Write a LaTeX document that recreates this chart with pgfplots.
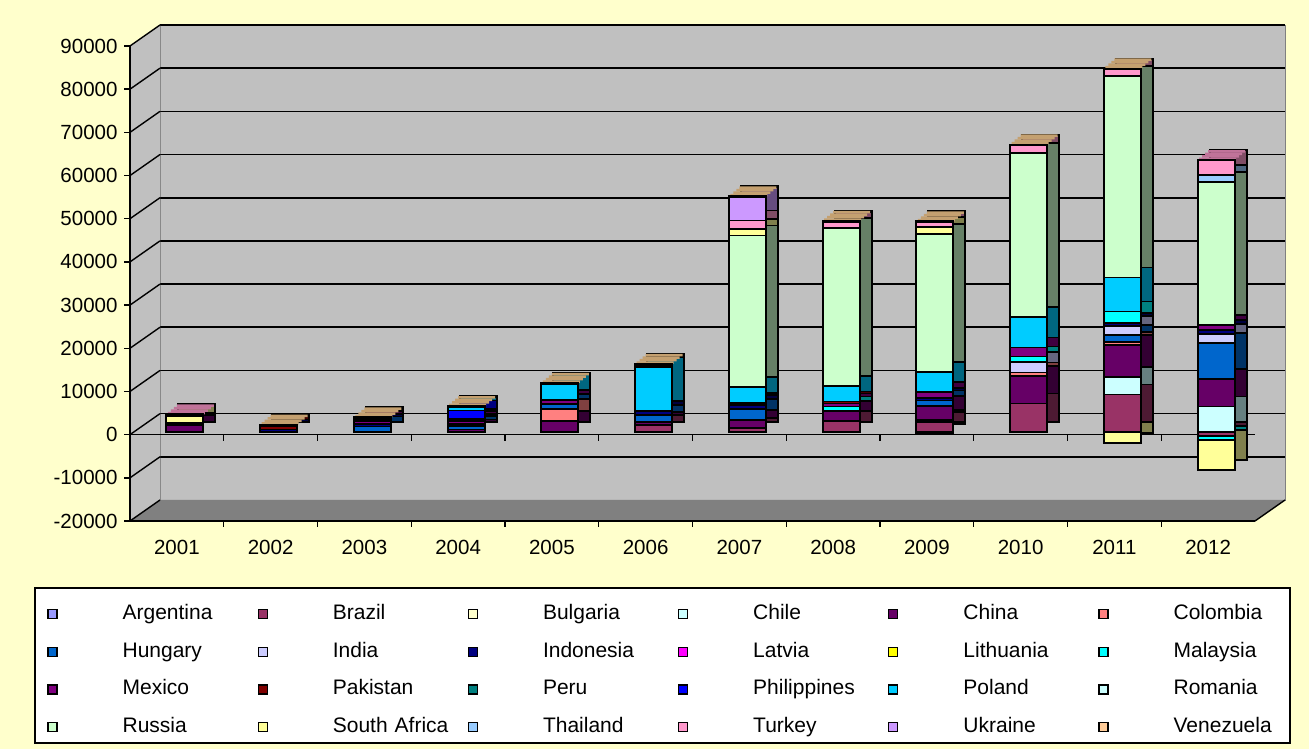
\documentclass[border=0pt]{standalone}
\usepackage{pgfplots}
\pgfplotsset{compat=1.18}
\usepackage{pgfplotstable}
\usepackage{fontspec}
\setmainfont{Liberation Sans}

\definecolor{bgyellow}{HTML}{FFFFCC}
\definecolor{wallgray}{HTML}{C0C0C0}
\definecolor{floorgray}{HTML}{808080}
\definecolor{cArg}{HTML}{9999FF}\definecolor{sArg}{HTML}{4D4D80}
\definecolor{cBra}{HTML}{993366}\definecolor{sBra}{HTML}{4D1A33}
\definecolor{cBul}{HTML}{FFFFCC}\definecolor{sBul}{HTML}{808066}
\definecolor{cChi}{HTML}{CCFFFF}\definecolor{sChi}{HTML}{668080}
\definecolor{cChn}{HTML}{660066}\definecolor{sChn}{HTML}{330033}
\definecolor{cCol}{HTML}{FF8080}\definecolor{sCol}{HTML}{804040}
\definecolor{cHun}{HTML}{0066CC}\definecolor{sHun}{HTML}{003366}
\definecolor{cInd}{HTML}{CCCCFF}\definecolor{sInd}{HTML}{666680}
\definecolor{cIdn}{HTML}{000080}\definecolor{sIdn}{HTML}{000040}
\definecolor{cLat}{HTML}{FF00FF}\definecolor{sLat}{HTML}{800080}
\definecolor{cLit}{HTML}{FFFF00}\definecolor{sLit}{HTML}{808000}
\definecolor{cMal}{HTML}{00FFFF}\definecolor{sMal}{HTML}{008080}
\definecolor{cMex}{HTML}{800080}\definecolor{sMex}{HTML}{400040}
\definecolor{cPak}{HTML}{800000}\definecolor{sPak}{HTML}{400000}
\definecolor{cPer}{HTML}{008080}\definecolor{sPer}{HTML}{004040}
\definecolor{cPhi}{HTML}{0000FF}\definecolor{sPhi}{HTML}{000080}
\definecolor{cPol}{HTML}{00CCFF}\definecolor{sPol}{HTML}{006680}
\definecolor{cRom}{HTML}{CCFFFF}\definecolor{sRom}{HTML}{668080}
\definecolor{cRus}{HTML}{CCFFCC}\definecolor{sRus}{HTML}{668066}
\definecolor{cSAf}{HTML}{FFFF99}\definecolor{sSAf}{HTML}{80804D}
\definecolor{cTha}{HTML}{99CCFF}\definecolor{sTha}{HTML}{4D6680}
\definecolor{cTur}{HTML}{FF99CC}\definecolor{sTur}{HTML}{804D66}
\definecolor{cUkr}{HTML}{CC99FF}\definecolor{sUkr}{HTML}{664D80}
\definecolor{cVen}{HTML}{FFCC99}\definecolor{sVen}{HTML}{80664D}
\definecolor{tVen}{HTML}{C4A070}
\definecolor{tTur}{HTML}{C07399}

% values by year index (1 = 2001 ... 12 = 2012); negatives stack below zero
\pgfplotstableread{
x Arg Bra Bul Chi Chn Col Hun Ind Idn Lat Lit Mal Mex Pak Per Phi Pol Rom Rus SAf Tha Tur Ukr Ven
1 0 0 0 0 1500 0 0 0 500 0 0 0 0 0 0 0 0 0 0 1700 0 300 0 0
2 0 0 0 0 0 0 0 0 500 0 0 0 0 800 0 0 0 0 0 0 0 0 0 300
3 0 0 0 0 0 0 1200 0 500 0 0 0 800 500 0 0 0 0 0 0 0 0 0 300
4 0 0 0 0 500 0 800 0 500 0 0 0 700 400 0 2000 700 0 0 0 0 0 0 300
5 0 0 0 0 2400 2800 1200 0 0 0 0 0 1000 0 0 0 3700 0 0 0 0 0 0 200
6 0 1500 0 0 800 0 1600 0 800 0 0 0 0 0 0 0 10300 0 0 0 0 500 0 200
7 0 900 0 0 1800 0 2600 0 800 0 0 0 0 600 0 0 3700 0 35000 1600 0 1900 5400 200
8 0 2500 0 0 2300 0 0 0 0 0 0 1000 700 500 0 0 3500 0 36600 0 0 1500 0 200
9 0 2200 0 500 3300 0 1200 0 500 0 0 0 1500 -600 0 0 4600 0 32000 1500 0 1200 0 200
10 0 6500 0 0 6300 900 0 2500 0 0 0 1200 2100 0 0 0 7000 0 38000 0 0 1800 0 200
11 0 8600 0 4000 7500 700 1600 2100 600 0 0 2700 0 0 0 0 7900 0 46600 -2600 0 1600 0 200
12 0 -1000 0 5800 6300 0 8400 2100 900 0 0 -1000 1200 0 0 0 0 0 33100 -6800 1600 3500 0 0
}\datatab

% top faces of the bars (depth of the 3-D bars), in four slanted steps
\pgfplotstableread{
x capV capT
1 0 579
2 579 0
3 579 0
4 579 0
5 579 0
6 579 0
7 579 0
8 579 0
9 579 0
10 579 0
11 579 0
12 0 579
}\captab

\newcommand\drawbars[1]{%
  \pgfplotsinvokeforeach{Arg,Bra,Bul,Chi,Chn,Col,Hun,Ind,Idn,Lat,Lit,Mal,Mex,Pak,Per,Phi,Pol,Rom,Rus,SAf,Tha,Tur,Ukr,Ven}{\addplot[fill=#1##1] table[x=x,y=##1]{\datatab};}
}

\pgfplotsset{
  barlayer/.style={scale only axis, width=1125pt, height=475pt,
    xmin=0.5, xmax=12.5, ymin=-20000, ymax=90000, anchor=south west,
    ybar stacked, bar width=37pt, hide axis, clip=false,
    every axis plot/.append style={draw=black, line width=1.8pt}},
}

\begin{document}
\begin{tikzpicture}
\path[use as bounding box] (0pt,0pt) rectangle (1309pt,749pt);
\fill[bgyellow] (0pt,0pt) rectangle (1309pt,749pt);
% back wall
\begin{axis}[at={(160pt,249pt)}, anchor=south west, scale only axis,
  width=1125pt, height=475pt, xmin=0.5, xmax=12.5, ymin=-20000, ymax=90000,
  xtick=\empty, ytick=\empty,
  axis background/.style={fill=wallgray},
  axis line style={draw=black!50, line width=0.8pt}]
\pgfplotsinvokeforeach{-10000,0,10000,20000,30000,40000,50000,60000,70000,80000}{
  \draw[black, line width=1.6pt] (axis cs:0.5,#1) -- (axis cs:12.5,#1);
}
\end{axis}
\draw[black, line width=1.6pt] (160pt,724pt) -- (1285pt,724pt);
% side wall and floor
\fill[wallgray] (130pt,228pt) -- (160pt,249pt) -- (160pt,724pt) -- (130pt,703pt) -- cycle;
\fill[floorgray] (130pt,228pt) -- (160pt,249pt) -- (1285pt,249pt) -- (1255pt,228pt) -- cycle;
\draw[line width=1.4pt] (1255pt,228pt) -- (1285pt,249pt);
\foreach \i in {0,...,11}
  \draw[line width=1.4pt] (130pt,{228pt+\i*43.1818pt}) -- (160pt,{249pt+\i*43.1818pt});
% legend box
\draw[fill=white, line width=1.5pt] (35pt,6pt) rectangle (1290pt,161pt);
% front plane: axis lines, ticks and labels
\begin{axis}[at={(130pt,228pt)}, anchor=south west, scale only axis,
  width=1125pt, height=475pt, xmin=0.5, xmax=12.5, ymin=-20000, ymax=90000,
  clip=false, axis line style={draw=none},
  xtick={1,...,12},
  xticklabels={2001,2002,2003,2004,2005,2006,2007,2008,2009,2010,2011,2012},
  xtick style={draw=none},
  ytick={-20000,-10000,...,90000}, scaled y ticks=false,
  yticklabels={-20000,-10000,0,10000,20000,30000,40000,50000,60000,70000,80000,90000},
  ytick style={draw=none},
  tick label style={font=\fontsize{20.5}{24}\selectfont},
  yticklabel style={xshift=-9pt},
  xticklabel style={yshift=-16pt}]
\draw[line width=1.4pt] (axis cs:0.5,90000) -- (axis cs:0.5,-20000) -- (axis cs:12.5,-20000);
\draw[line width=1.4pt] (axis cs:0.5,0) -- (axis cs:12.5,0);
\pgfplotsinvokeforeach{-20000,-10000,0,10000,20000,30000,40000,50000,60000,70000,80000,90000}{
  \draw[line width=1.4pt] (axis cs:0.5,#1) -- ++(-6pt,0pt);
}
\pgfplotsinvokeforeach{1.5,2.5,3.5,4.5,5.5,6.5,7.5,8.5,9.5,10.5,11.5}{
  \draw[line width=1.4pt] (axis cs:#1,0) -- ++(0pt,-6pt);
  \draw[line width=1.4pt] (axis cs:#1,-20000) -- ++(0pt,-6pt);
}
\end{axis}
% side faces of the bars
\begin{axis}[barlayer, at={(150pt,241pt)}]
\drawbars{s}
\end{axis}
% front faces, top faces and legend
\begin{axis}[barlayer, at={(138pt,231pt)},
  legend columns=6,
  legend cell align=left,
  legend image code/.code={\draw[#1,line width=1.2pt] (0pt,-4.5pt) rectangle (9pt,4.5pt);},
  legend style={at={(rel axis cs:-0.0805,-0.1625)}, anchor=north west,
    draw=none, fill=none, inner sep=0pt, outer sep=0pt,
    font=\fontsize{21}{25}\selectfont,
    nodes={text width=130pt, inner xsep=0pt, inner ysep=0pt,
      text height=15.5pt, text depth=4.5pt, minimum height=37.7pt, align=left},
    /tikz/every odd column/.append style={column sep=65pt},
    /tikz/every even column/.append style={column sep=5pt}}]
\drawbars{c}
\pgfplotsinvokeforeach{1.5,4.5,7.5,10.5}{
  \addplot[fill=tVen, draw=none, bar shift=#1pt, forget plot] table[x=x,y=capV]{\captab};
  \addplot[fill=tTur, draw=none, bar shift=#1pt, forget plot] table[x=x,y=capT]{\captab};
}
\legend{Argentina,Brazil,Bulgaria,Chile,China,Colombia,Hungary,India,Indonesia,Latvia,Lithuania,Malaysia,Mexico,Pakistan,Peru,Philippines,Poland,Romania,Russia,South Africa,Thailand,Turkey,Ukraine,Venezuela}
\end{axis}
\end{tikzpicture}
\end{document}
